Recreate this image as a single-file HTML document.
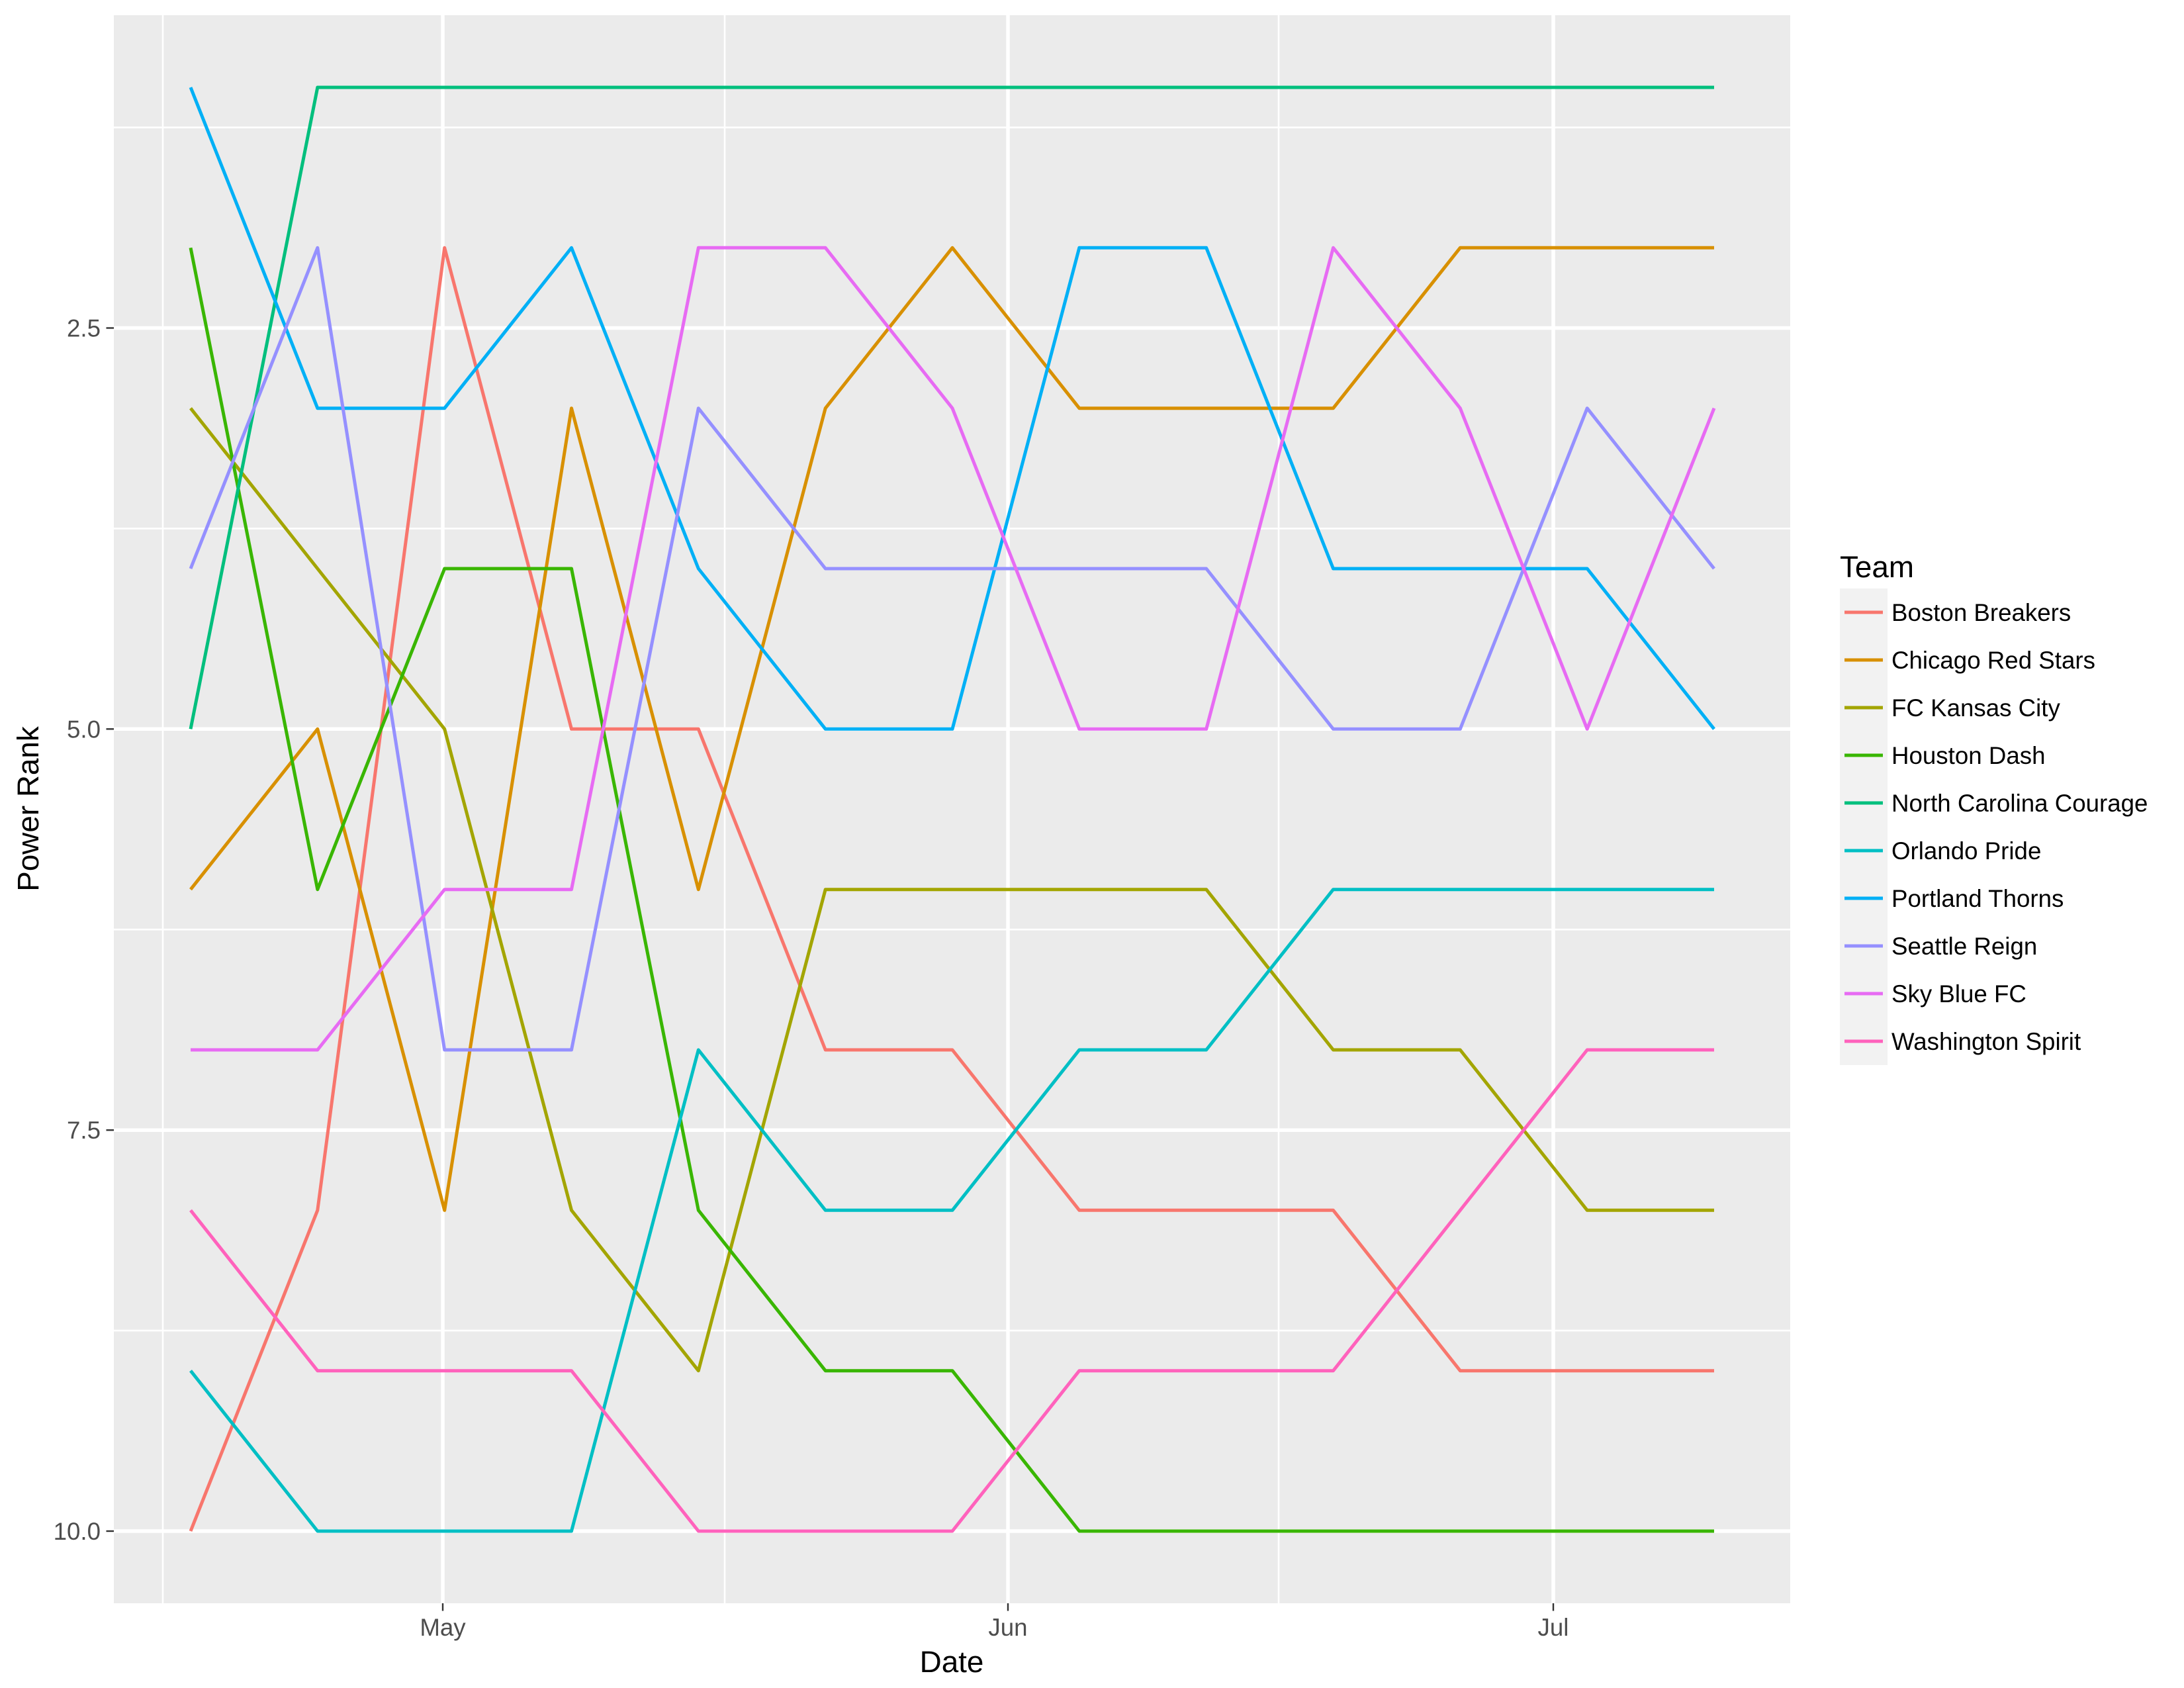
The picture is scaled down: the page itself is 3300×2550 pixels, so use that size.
<!DOCTYPE html>
<html><head><meta charset="utf-8"><style>html,body{margin:0;padding:0;background:#fff}svg{display:block}</style></head>
<body>
<svg width="3300" height="2550" viewBox="0 0 3300 2550" xmlns="http://www.w3.org/2000/svg" font-family="Liberation Sans, Arial, sans-serif">
<rect x="0" y="0" width="3300" height="2550" fill="#fff"/>
<rect x="172" y="23" width="2533" height="2399" fill="#EBEBEB"/>
<g stroke="#fff" stroke-width="2.6">
<line x1="172" y1="192.6" x2="2705" y2="192.6"/>
<line x1="172" y1="798.4" x2="2705" y2="798.4"/>
<line x1="172" y1="1404.2" x2="2705" y2="1404.2"/>
<line x1="172" y1="2010.1" x2="2705" y2="2010.1"/>
<line x1="246" y1="23" x2="246" y2="2422"/>
<line x1="1095" y1="23" x2="1095" y2="2422"/>
<line x1="1932" y1="23" x2="1932" y2="2422"/>
</g>
<g stroke="#fff" stroke-width="5.5">
<line x1="172" y1="495.5" x2="2705" y2="495.5"/>
<line x1="172" y1="1101.3" x2="2705" y2="1101.3"/>
<line x1="172" y1="1707.2" x2="2705" y2="1707.2"/>
<line x1="172" y1="2313" x2="2705" y2="2313"/>
<line x1="669" y1="23" x2="669" y2="2422"/>
<line x1="1523" y1="23" x2="1523" y2="2422"/>
<line x1="2347" y1="23" x2="2347" y2="2422"/>
</g>
<g fill="none" stroke-width="5" stroke-linejoin="round">
<polyline stroke="#F8766D" points="288,2313 479.8,1828.3 671.7,374.3 863.5,1101.3 1055.3,1101.3 1247.2,1586 1439,1586 1630.8,1828.3 1822.7,1828.3 2014.5,1828.3 2206.3,2070.7 2398.2,2070.7 2590,2070.7"/>
<polyline stroke="#D89000" points="288,1343.7 479.8,1101.3 671.7,1828.3 863.5,616.7 1055.3,1343.7 1247.2,616.7 1439,374.3 1630.8,616.7 1822.7,616.7 2014.5,616.7 2206.3,374.3 2398.2,374.3 2590,374.3"/>
<polyline stroke="#A3A500" points="288,616.7 479.8,859 671.7,1101.3 863.5,1828.3 1055.3,2070.7 1247.2,1343.7 1439,1343.7 1630.8,1343.7 1822.7,1343.7 2014.5,1586 2206.3,1586 2398.2,1828.3 2590,1828.3"/>
<polyline stroke="#39B600" points="288,374.3 479.8,1343.7 671.7,859 863.5,859 1055.3,1828.3 1247.2,2070.7 1439,2070.7 1630.8,2313 1822.7,2313 2014.5,2313 2206.3,2313 2398.2,2313 2590,2313"/>
<polyline stroke="#00BF7D" points="288,1101.3 479.8,132 671.7,132 863.5,132 1055.3,132 1247.2,132 1439,132 1630.8,132 1822.7,132 2014.5,132 2206.3,132 2398.2,132 2590,132"/>
<polyline stroke="#00BFC4" points="288,2070.7 479.8,2313 671.7,2313 863.5,2313 1055.3,1586 1247.2,1828.3 1439,1828.3 1630.8,1586 1822.7,1586 2014.5,1343.7 2206.3,1343.7 2398.2,1343.7 2590,1343.7"/>
<polyline stroke="#00B0F6" points="288,132 479.8,616.7 671.7,616.7 863.5,374.3 1055.3,859 1247.2,1101.3 1439,1101.3 1630.8,374.3 1822.7,374.3 2014.5,859 2206.3,859 2398.2,859 2590,1101.3"/>
<polyline stroke="#9590FF" points="288,859 479.8,374.3 671.7,1586 863.5,1586 1055.3,616.7 1247.2,859 1439,859 1630.8,859 1822.7,859 2014.5,1101.3 2206.3,1101.3 2398.2,616.7 2590,859"/>
<polyline stroke="#E76BF3" points="288,1586 479.8,1586 671.7,1343.7 863.5,1343.7 1055.3,374.3 1247.2,374.3 1439,616.7 1630.8,1101.3 1822.7,1101.3 2014.5,374.3 2206.3,616.7 2398.2,1101.3 2590,616.7"/>
<polyline stroke="#FF62BC" points="288,1828.3 479.8,2070.7 671.7,2070.7 863.5,2070.7 1055.3,2313 1247.2,2313 1439,2313 1630.8,2070.7 1822.7,2070.7 2014.5,2070.7 2206.3,1828.3 2398.2,1586 2590,1586"/>
</g>
<g stroke="#333" stroke-width="2.4">
<line x1="160.5" y1="495.5" x2="172" y2="495.5"/>
<line x1="160.5" y1="1101.3" x2="172" y2="1101.3"/>
<line x1="160.5" y1="1707.2" x2="172" y2="1707.2"/>
<line x1="160.5" y1="2313" x2="172" y2="2313"/>
<line x1="669" y1="2422" x2="669" y2="2433.5"/>
<line x1="1523" y1="2422" x2="1523" y2="2433.5"/>
<line x1="2347" y1="2422" x2="2347" y2="2433.5"/>
</g>
<g fill="#4D4D4D" font-size="36.7" text-anchor="end">
<text x="152" y="508.5">2.5</text>
<text x="152" y="1114.3">5.0</text>
<text x="152" y="1720.2">7.5</text>
<text x="152" y="2326">10.0</text>
</g>
<g fill="#4D4D4D" font-size="36.7" text-anchor="middle">
<text x="669" y="2471">May</text>
<text x="1523" y="2471">Jun</text>
<text x="2347" y="2471">Jul</text>
</g>
<text x="1438" y="2526" font-size="45.8" text-anchor="middle" fill="#000">Date</text>
<text transform="translate(58,1222) rotate(-90)" font-size="45.8" text-anchor="middle" fill="#000">Power Rank</text>
<text x="2780" y="872" font-size="45.8" fill="#000">Team</text>
<g>
<rect x="2780" y="889" width="72" height="72" fill="#F2F2F2"/>
<rect x="2780" y="961" width="72" height="72" fill="#F2F2F2"/>
<rect x="2780" y="1033" width="72" height="72" fill="#F2F2F2"/>
<rect x="2780" y="1105" width="72" height="72" fill="#F2F2F2"/>
<rect x="2780" y="1177" width="72" height="72" fill="#F2F2F2"/>
<rect x="2780" y="1249" width="72" height="72" fill="#F2F2F2"/>
<rect x="2780" y="1321" width="72" height="72" fill="#F2F2F2"/>
<rect x="2780" y="1393" width="72" height="72" fill="#F2F2F2"/>
<rect x="2780" y="1465" width="72" height="72" fill="#F2F2F2"/>
<rect x="2780" y="1537" width="72" height="72" fill="#F2F2F2"/>
</g>
<g stroke-width="5">
<line x1="2787" x2="2845" y1="925" y2="925" stroke="#F8766D"/>
<line x1="2787" x2="2845" y1="997" y2="997" stroke="#D89000"/>
<line x1="2787" x2="2845" y1="1069" y2="1069" stroke="#A3A500"/>
<line x1="2787" x2="2845" y1="1141" y2="1141" stroke="#39B600"/>
<line x1="2787" x2="2845" y1="1213" y2="1213" stroke="#00BF7D"/>
<line x1="2787" x2="2845" y1="1285" y2="1285" stroke="#00BFC4"/>
<line x1="2787" x2="2845" y1="1357" y2="1357" stroke="#00B0F6"/>
<line x1="2787" x2="2845" y1="1429" y2="1429" stroke="#9590FF"/>
<line x1="2787" x2="2845" y1="1501" y2="1501" stroke="#E76BF3"/>
<line x1="2787" x2="2845" y1="1573" y2="1573" stroke="#FF62BC"/>
</g>
<g font-size="36.7" fill="#000">
<text x="2858" y="938">Boston Breakers</text>
<text x="2858" y="1010">Chicago Red Stars</text>
<text x="2858" y="1082">FC Kansas City</text>
<text x="2858" y="1154">Houston Dash</text>
<text x="2858" y="1226">North Carolina Courage</text>
<text x="2858" y="1298">Orlando Pride</text>
<text x="2858" y="1370">Portland Thorns</text>
<text x="2858" y="1442">Seattle Reign</text>
<text x="2858" y="1514">Sky Blue FC</text>
<text x="2858" y="1586">Washington Spirit</text>
</g>
</svg>
</body></html>
